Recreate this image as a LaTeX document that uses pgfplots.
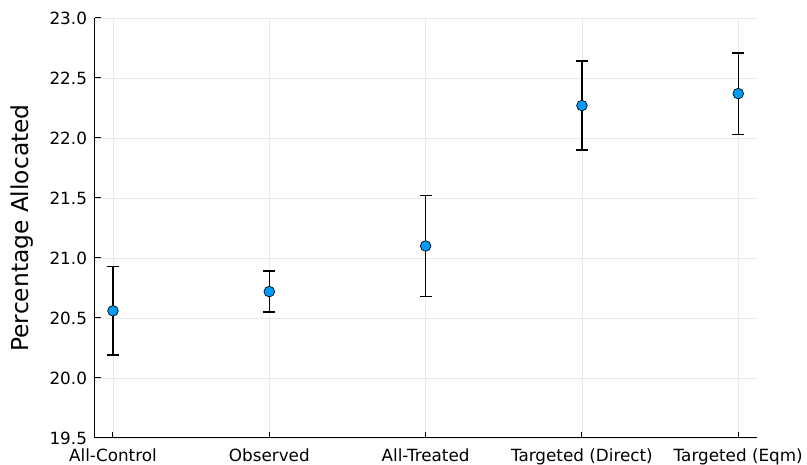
\documentclass[border=0pt]{standalone}
\usepackage{pgfplots}
\pgfplotsset{compat=1.18}
\usepackage{fontspec}
\setmainfont{DejaVu Sans}
\definecolor{jblue}{RGB}{0,154,250}
\definecolor{gridc}{RGB}{232,232,232}
\begin{document}
\begin{tikzpicture}
\begin{axis}[
  name=ax,
  scale only axis,
  width=496.5pt, height=315pt,
  xmin=0.885, xmax=5.12,
  ymin=19.5, ymax=23.0,
  axis x line*=bottom, axis y line*=left,
  axis line style={line width=0.75pt, -},
  xtick={1,2,3,4,5},
  xticklabels={All-Control,Observed,All-Treated,Targeted (Direct),Targeted (Eqm)},
  ytick={19.5,20,20.5,21,21.5,22,22.5,23},
  /pgf/number format/fixed,
  /pgf/number format/fixed zerofill,
  /pgf/number format/precision=1,
  /pgf/number format/assume math mode=true,
  tick align=inside,
  major tick length=4.5pt,
  tick style={line width=0.75pt, black},
  grid=major,
  grid style={line width=0.5pt, gridc},
  ticklabel style={font=\fontsize{12.6}{14}\selectfont},
  yticklabel style={xshift=-2.5pt},
  xticklabel style={yshift=-4.5pt},
  ylabel={Percentage Allocated},
  ylabel style={font=\fontsize{17.5}{20}\selectfont, at={(axis description cs:-0.11,0.5)}, anchor=center},
  clip=false,
]
\addplot[
  only marks,
  mark=*,
  mark size=4pt,
  mark options={fill=jblue, draw=black, line width=0.5pt},
  error bars/.cd,
    y dir=both, y explicit,
    error bar style={line width=1.1pt, black},
    error mark options={rotate=90, mark size=4.5pt, line width=1.1pt, black},
] coordinates {
  (1,20.56) +- (0,0.37)
  (2,20.72) +- (0,0.17)
  (3,21.10) +- (0,0.42)
  (4,22.27) +- (0,0.37)
  (5,22.37) +- (0,0.34)
};
\end{axis}
\pgfresetboundingbox
\path[use as bounding box] ([xshift=-71.25pt,yshift=-20.25pt]ax.south west) rectangle ([xshift=37.5pt,yshift=13.5pt]ax.north east);
\end{tikzpicture}
\end{document}
